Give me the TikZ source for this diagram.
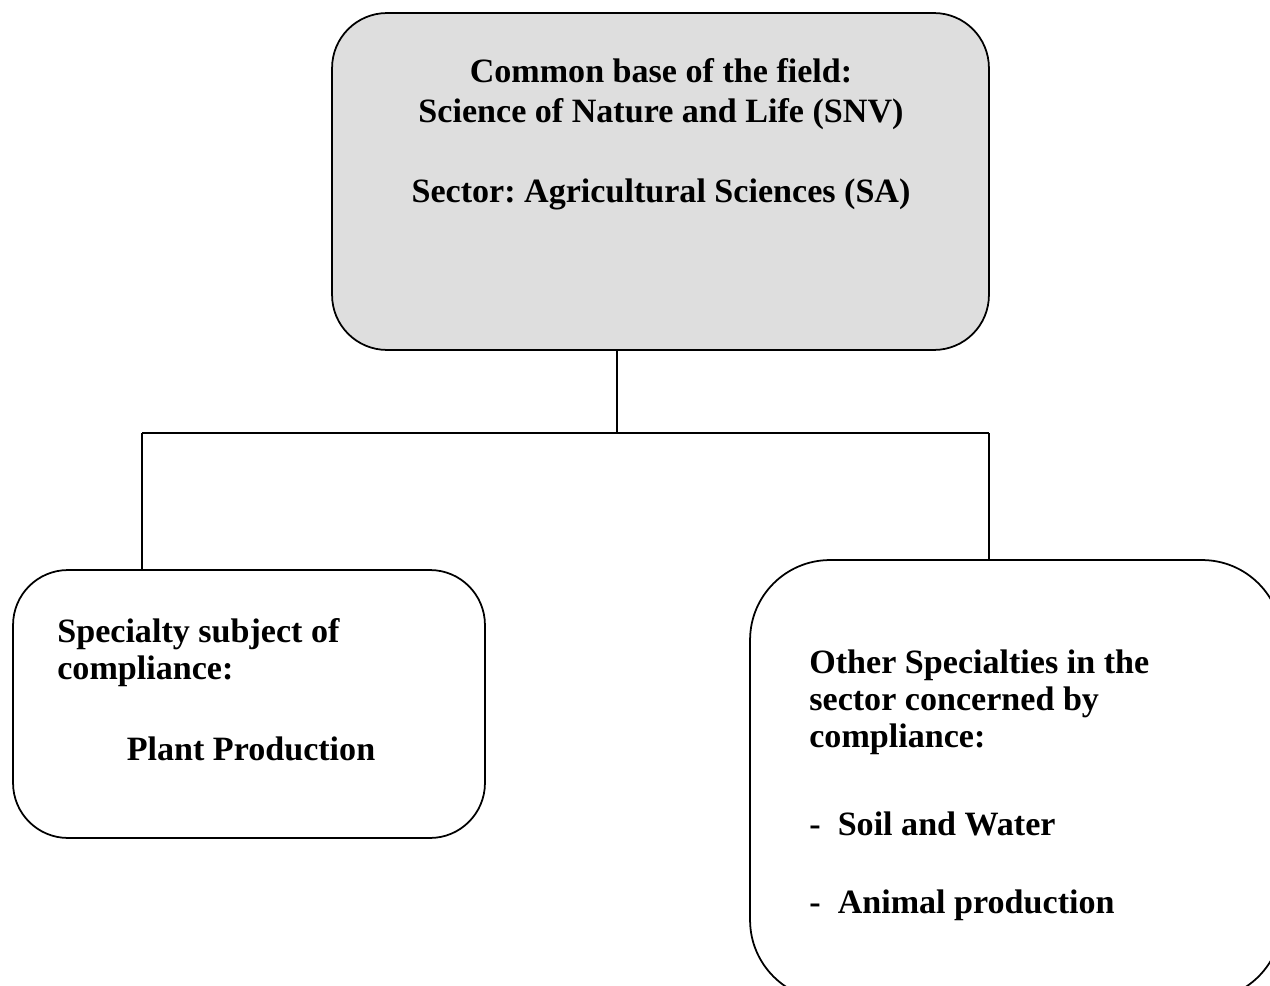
\documentclass[tikz,border=0pt]{standalone}
\usepackage{fontspec}
\setmainfont{Liberation Serif}
\frenchspacing
\tikzset{
  box/.style={draw, line width=1pt, rounded corners=1.1cm, inner sep=0pt},
  lbl/.style={font=\fontsize{19.4}{23}\selectfont\bfseries, inner sep=0pt},
}
\begin{document}
\begin{tikzpicture}[x=0.02cm, y=-0.02cm]
      \useasboundingbox (0,0) rectangle (1270,986);
      \clip (0,0) rectangle (1270,986);
      \node[box, fill=black!13, minimum width=13.14cm, minimum height=6.74cm] (base) at (660.5,181.5) {};
      \node[box, minimum width=9.44cm, minimum height=5.36cm] (plant) at (249,704) {};
      \node[box, rounded corners=1.6cm, minimum width=10.64cm, minimum height=8.8cm] (other) at (1016,780) {};
      \draw
        (661,83) node[lbl, anchor=base] (t1){Common base of the field:}
        (661,123) node[lbl, anchor=base] (t2){Science of Nature and Life (SNV)}
        (661,203) node[lbl, anchor=base] (t3){Sector: Agricultural Sciences (SA)}
        (57,642) node[lbl, anchor=base west] (t4){Specialty subject of}
        (57,679) node[lbl, anchor=base west] (t5){compliance:}
        (251,760) node[lbl, anchor=base] (t6){Plant Production}
        (809,673) node[lbl, anchor=base west] (t7){Other Specialties in the}
        (809,710) node[lbl, anchor=base west] (t8){sector concerned by}
        (809,747) node[lbl, anchor=base west] (t9){compliance:}
        (809,835) node[lbl, anchor=base west] (t10){-\hspace{0.25em} Soil and Water}
        (809,913) node[lbl, anchor=base west] (t11){-\hspace{0.25em} Animal production};
      \coordinate (split) at (617,433);
      \coordinate (jl) at (142,433);
      \coordinate (jr) at (989,433);
      \begin{scope}[line width=1pt]
        \draw (split |- base.south) to (split);
        \draw (jl) to (jr);
        \draw (jl) to (jl |- plant.north);
        \draw (jr) to (jr |- other.north);
      \end{scope}
    \end{tikzpicture}
\end{document}
